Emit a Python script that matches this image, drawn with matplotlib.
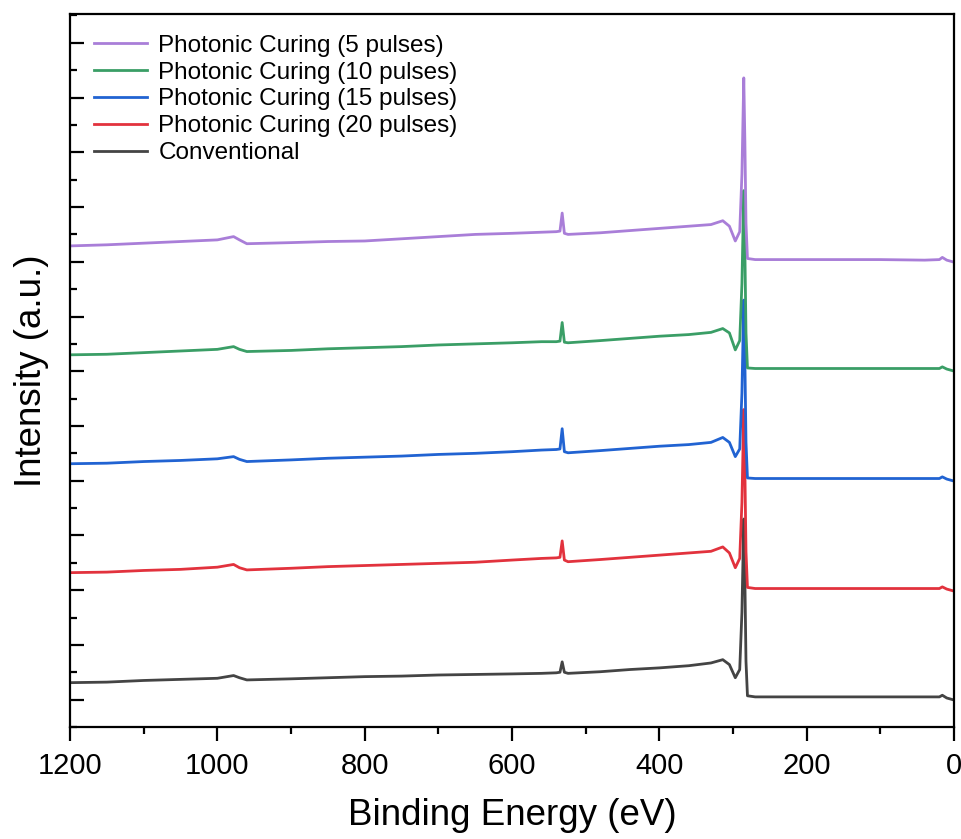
import matplotlib.pyplot as plt
from matplotlib.ticker import MultipleLocator

plt.rcParams['font.family'] = ['Liberation Sans', 'DejaVu Sans']

# binding energy points (eV)
energy = [1200, 1150, 1100, 1050, 1000, 978, 970, 960, 900, 850, 800, 750, 700, 650,
          600, 560, 540, 535, 532, 529, 524, 480, 440, 400, 360, 330, 314, 305, 297,
          291, 288, 285.5, 284, 282.5, 280.5, 270, 200, 100, 40, 20, 16, 10, 2]

# stacked intensities (a.u., already offset)
conventional = [0.31, 0.32, 0.35, 0.37, 0.39, 0.44, 0.40, 0.36, 0.38, 0.40, 0.42, 0.43, 0.45, 0.46,
                0.47, 0.48, 0.49, 0.50, 0.69, 0.50, 0.48, 0.51, 0.55, 0.58, 0.62, 0.67, 0.73, 0.64, 0.40,
                0.55, 1.60, 3.30, 2.20, 0.70, 0.07, 0.05, 0.05, 0.05, 0.05, 0.05, 0.08, 0.03, 0.00]
pc20 = [2.32, 2.33, 2.36, 2.38, 2.42, 2.47, 2.41, 2.37, 2.40, 2.43, 2.45, 2.47, 2.49, 2.51,
        2.55, 2.58, 2.59, 2.60, 2.90, 2.55, 2.52, 2.56, 2.60, 2.64, 2.68, 2.71, 2.79, 2.68, 2.41,
        2.58, 3.60, 5.30, 4.20, 2.70, 2.05, 2.03, 2.03, 2.03, 2.03, 2.03, 2.06, 2.02, 1.99]
pc15 = [4.31, 4.32, 4.35, 4.37, 4.40, 4.44, 4.39, 4.35, 4.38, 4.41, 4.43, 4.45, 4.48, 4.50,
        4.53, 4.56, 4.57, 4.58, 4.95, 4.53, 4.51, 4.55, 4.59, 4.63, 4.66, 4.70, 4.79, 4.70, 4.44,
        4.58, 5.60, 7.30, 6.20, 4.70, 4.05, 4.04, 4.04, 4.04, 4.04, 4.04, 4.07, 4.03, 4.00]
pc10 = [6.30, 6.31, 6.34, 6.37, 6.40, 6.45, 6.40, 6.36, 6.38, 6.41, 6.43, 6.45, 6.48, 6.50,
        6.52, 6.54, 6.54, 6.55, 6.89, 6.53, 6.52, 6.56, 6.60, 6.64, 6.67, 6.71, 6.78, 6.70, 6.39,
        6.56, 7.60, 9.30, 8.20, 6.70, 6.06, 6.05, 6.05, 6.05, 6.05, 6.05, 6.08, 6.04, 6.01]
pc5 = [8.29, 8.31, 8.34, 8.37, 8.40, 8.46, 8.40, 8.33, 8.35, 8.37, 8.38, 8.42, 8.46, 8.50,
       8.52, 8.54, 8.55, 8.56, 8.89, 8.52, 8.50, 8.53, 8.57, 8.61, 8.65, 8.68, 8.75, 8.65, 8.38,
       8.55, 9.60, 11.36, 10.20, 8.70, 8.06, 8.04, 8.04, 8.04, 8.03, 8.04, 8.08, 8.03, 8.00]

labels = ['Photonic Curing (5 pulses)', 'Photonic Curing (10 pulses)',
          'Photonic Curing (15 pulses)', 'Photonic Curing (20 pulses)', 'Conventional']
colors = ['#a97ed8', '#3a9e66', '#2163d2', '#e2323d', '#444444']

fig = plt.figure(figsize=(9.62, 8.39), dpi=100)
ax = fig.add_axes([0.0728, 0.1335, 0.919, 0.85])

series = [pc5, pc10, pc15, pc20, conventional]
# draw bottom curve first so the upper ones sit on top
for ys, lab, c in reversed(list(zip(series, labels, colors))):
    ax.plot(energy, ys, color=c, lw=2.0, label=lab)

ax.set_xlim(1200, 0)
ax.set_ylim(-0.5, 12.53)

ax.xaxis.set_major_locator(MultipleLocator(200))
ax.xaxis.set_minor_locator(MultipleLocator(100))
ax.yaxis.set_major_locator(MultipleLocator(1))
ax.yaxis.set_minor_locator(MultipleLocator(0.5))
ax.set_yticklabels([])

ax.tick_params(axis='x', which='major', direction='out', length=10, width=1.6, labelsize=21, pad=8)
ax.tick_params(axis='x', which='minor', direction='out', length=5, width=1.6)
ax.tick_params(axis='y', which='major', direction='in', length=10, width=1.6, labelleft=False)
ax.tick_params(axis='y', which='minor', direction='in', length=5, width=1.6)
for s in ax.spines.values():
    s.set_linewidth(1.6)

ax.set_xlabel('Binding Energy (eV)', fontsize=26.5, labelpad=13)
ax.set_ylabel('Intensity (a.u.)', fontsize=26.5, labelpad=12)

h, l = ax.get_legend_handles_labels()
ax.legend(h[::-1], l[::-1], loc='upper left', frameon=False, fontsize=17.5,
          handlelength=2.2, handletextpad=0.45, labelspacing=0.2,
          borderaxespad=0.4, bbox_to_anchor=(0.005, 0.998))

fig.savefig('out.png', dpi=100)
